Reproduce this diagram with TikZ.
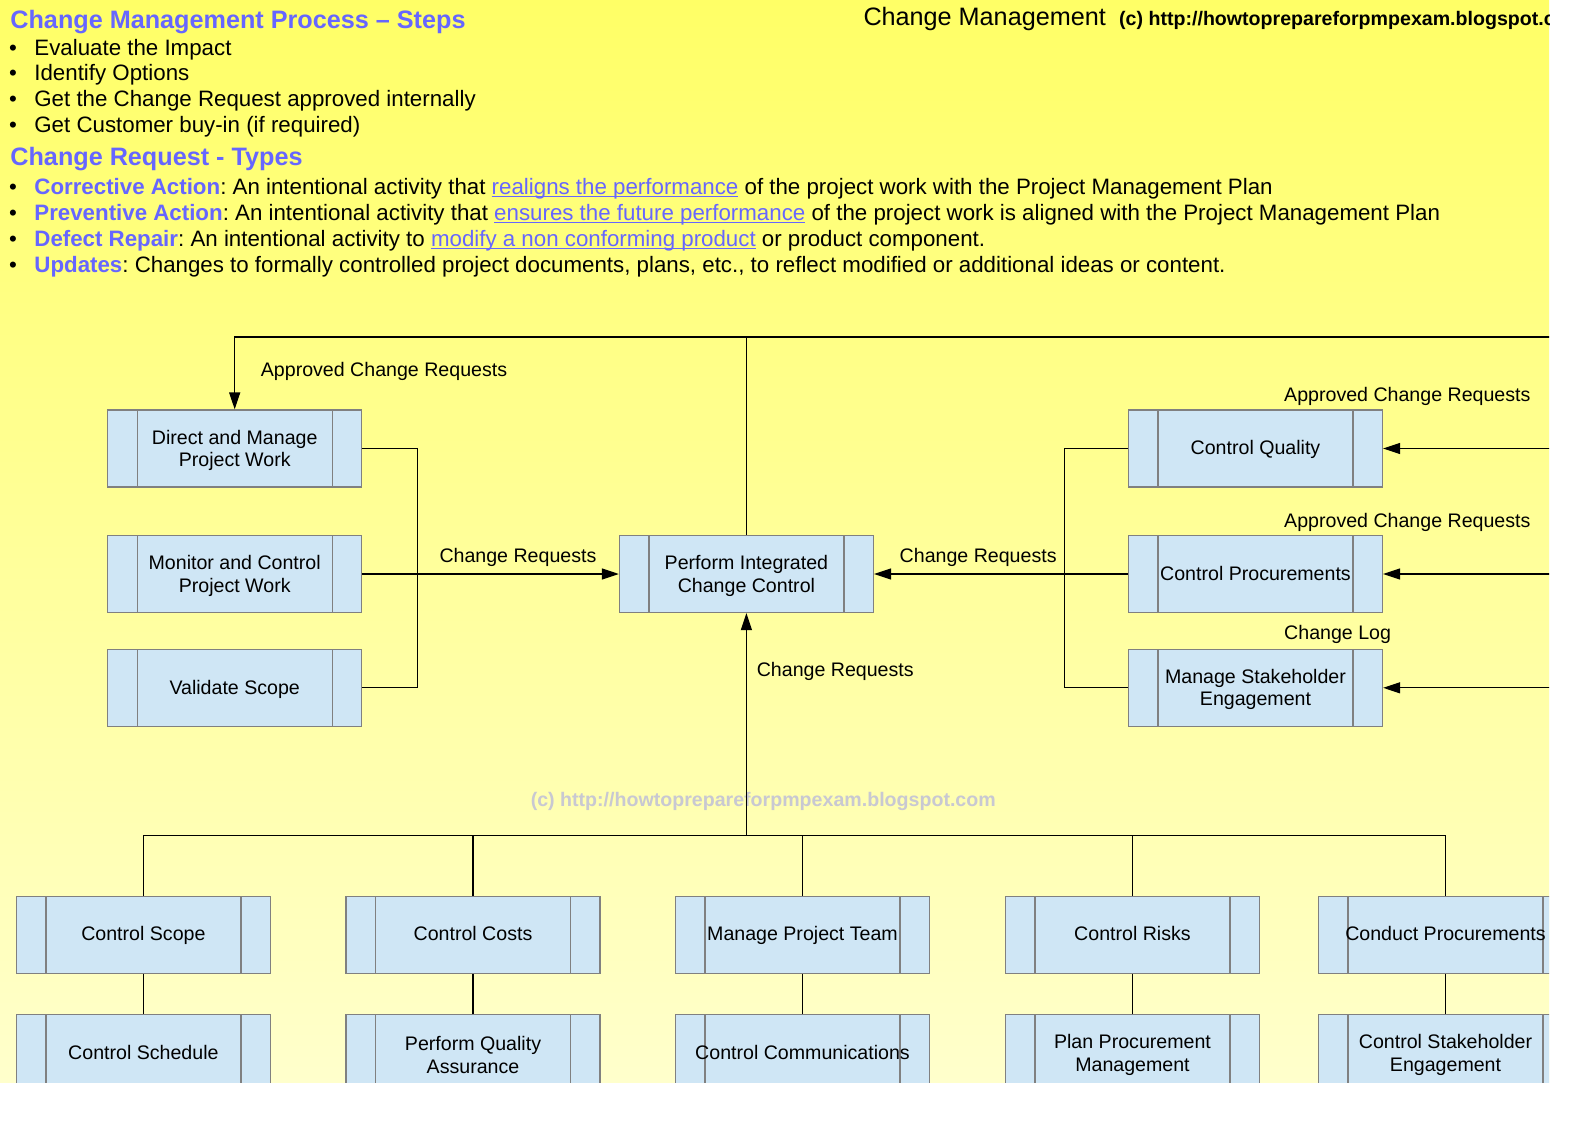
\documentclass[tikz,border=0pt]{standalone}
\usepackage{fontspec}
\setmainfont{Liberation Sans}
\usetikzlibrary{arrows.meta}
\definecolor{hblue}{HTML}{6666FF}
\definecolor{boxfill}{HTML}{CFE6F5}
\definecolor{boxline}{HTML}{808080}
\definecolor{bgtop}{HTML}{FFFF66}
\definecolor{bgbot}{HTML}{FFFFCC}
\definecolor{wmark}{HTML}{C8C8D2}
\newcommand\myhead{\fontsize{25.2}{30}\selectfont\bfseries}
\newcommand\mybul{\fontsize{22.3}{26}\selectfont}
\newcommand\mylab{\fontsize{19.6}{22.5}\selectfont}
\newcommand\lnk[1]{\setbox0\hbox{#1}\rlap{\color{hblue}\rule[-2.4pt]{\wd0}{1.1pt}}{\color{hblue}#1}}
\newcommand\kw[1]{\textcolor{hblue}{\bfseries #1}}
\frenchspacing
\begin{document}
\frenchspacing
\begin{tikzpicture}[x=1pt,y=-1pt,
  conn/.style={line width=1.2pt, draw=black},
  arr/.style={conn, -{Triangle[length=17pt,width=11pt]}},
  boxbase/.style={draw=boxline, fill=boxfill, line width=1.2pt, minimum width=254pt,
    minimum height=77pt, inner sep=0pt,
    path picture={\draw[boxline, line width=1.2pt]
      ([xshift=29.5pt]path picture bounding box.north west) -- ([xshift=29.5pt]path picture bounding box.south west)
      ([xshift=-29.5pt]path picture bounding box.north east) -- ([xshift=-29.5pt]path picture bounding box.south east);}},
  pbox/.style={boxbase,
    label={[font=\mylab, align=center, inner sep=0pt, yshift=-1.8pt]center:#1}},
  pboxs/.style={boxbase,
    label={[font=\mylab, inner sep=0pt, text height=14pt, text depth=1.6pt]center:#1}},
  lab/.style={anchor=base west, inner sep=0pt, font=\mylab},
  bul/.style={anchor=base west, inner sep=0pt, font=\mybul},
  head/.style={anchor=base west, inner sep=0pt, font=\myhead, text=hblue}]
\useasboundingbox (0,0) rectangle (1588,1123);
\fill[white] (0,0) rectangle (1588,1123);
\begin{scope}
\clip (0,0) rectangle (1549,1082.5);
\shade[top color=bgtop, bottom color=bgbot] (0,0) rectangle (1549,1082.5);
% header texts
\node[head] (h1) at (10.2,28.3) {Change Management Process – Steps};
\node[bul] (d1) at (9,55.3) {•};
\node[bul] (b1) at (34.2,55.3) {Evaluate the Impact};
\node[bul] (d2) at (9,81) {•};
\node[bul] (b2) at (34.2,81) {Identify Options};
\node[bul] (d3) at (9,106.6) {•};
\node[bul] (b3) at (34.2,106.6) {Get the Change Request approved internally};
\node[bul] (d4) at (9,132.3) {•};
\node[bul] (b4) at (34.2,132.3) {Get Customer buy-in (if required)};
\node[head] (h2) at (10.2,165.7) {Change Request - Types};
\node[bul] (e1) at (9,194.3) {•};
\node[bul] (t1) at (34.2,194.3) {\kw{Corrective Action}: An intentional activity that \lnk{realigns the performance} of the project work with the Project Management Plan};
\node[bul] (e2) at (9,220.5) {•};
\node[bul] (t2) at (34.2,220.5) {\kw{Preventive Action}: An intentional activity that \lnk{ensures the future performance} of the project work is aligned with the Project Management Plan};
\node[bul] (e3) at (9,246.7) {•};
\node[bul] (t3) at (34.2,246.7) {\kw{Defect Repair}: An intentional activity to \lnk{modify a non conforming product} or product component.};
\node[bul] (e4) at (9,272.9) {•};
\node[bul] (t4) at (34.2,272.9) {\kw{Updates}: Changes to formally controlled project documents, plans, etc., to reflect modified or additional ideas or content.};
\node[anchor=base west, inner sep=0pt, font=\fontsize{25.2}{28}\selectfont] (cm) at (863.3,26) {Change Management};
\node[anchor=base west, inner sep=0pt, font=\fontsize{19.6}{22}\selectfont\bfseries] (cr) at (1119,25.5) {(c) http://howtoprepareforpmpexam.blogspot.com};
% watermark
\node[lab, font=\mylab\bfseries, text=wmark] (wm) at (530.6,806) {(c) http://howtoprepareforpmpexam.blogspot.com};
% boxes
\node[pbox={Direct and Manage\\Project Work}] (dmpw) at (234.7,448.5) {};
\node[pbox={Monitor and Control\\Project Work}] (mcpw) at (234.7,574) {};
\node[pboxs={Validate Scope}] (vs) at (234.7,687.8) {};
\node[pbox={Perform Integrated\\Change Control}] (picc) at (746.4,574) {};
\node[pboxs={Control Quality}] (cq) at (1255.5,448.5) {};
\node[pboxs={Control Procurements}] (cp) at (1255.5,574) {};
\node[pbox={Manage Stakeholder\\Engagement}] (mse) at (1255.5,687.8) {};
\node[pboxs={Control Scope}] (r1a) at (143.4,934.7) {};
\node[pboxs={Control Costs}] (r1b) at (473,934.7) {};
\node[pboxs={Manage Project Team}] (r1c) at (802.5,934.7) {};
\node[pboxs={Control Risks}] (r1d) at (1132.5,934.7) {};
\node[pboxs={Conduct Procurements}] (r1e) at (1445.5,934.7) {};
\node[pboxs={Control Schedule}] (r2a) at (143.4,1053) {};
\node[pbox={Perform Quality\\Assurance}] (r2b) at (473,1053) {};
\node[pboxs={Control Communications}] (r2c) at (802.5,1053) {};
\node[pbox={Plan Procurement\\Management}] (r2d) at (1132.5,1053) {};
\node[pbox={Control Stakeholder\\Engagement}] (r2e) at (1445.5,1053) {};
% labels
\node[lab] (l1) at (260.7,376) {Approved Change Requests};
\node[lab] (l2) at (439.3,562.5) {Change Requests};
\node[lab] (l3) at (899.5,562.5) {Change Requests};
\node[lab] (l4) at (756.6,676.5) {Change Requests};
\node[lab] (l5) at (1284,401) {Approved Change Requests};
\node[lab] (l6) at (1284,527) {Approved Change Requests};
\node[lab] (l7) at (1284,639.7) {Change Log};
% connector helpers
\coordinate (topR) at (1570,337);
\coordinate (lbus) at (417.3,0);
\coordinate (rbus) at (1064.3,0);
\coordinate (redge) at (1570,0);
\coordinate (bbus) at (0,835.3);
% connectors
\draw[conn] (picc.north) -- (picc.north |- topR);
\draw[arr] (topR) -| (dmpw.north);
\draw[conn] (dmpw.east) -- (dmpw.east -| lbus) -- (vs.east -| lbus) -- (vs.east);
\draw[arr] (mcpw.east) -- (picc.west);
\draw[conn] (cq.west) -- (cq.west -| rbus) -- (mse.west -| rbus) -- (mse.west);
\draw[arr] (cp.west) -- (picc.east);
\draw[arr] (cq.east -| redge) -- (cq.east);
\draw[arr] (cp.east -| redge) -- (cp.east);
\draw[arr] (mse.east -| redge) -- (mse.east);
\draw[arr] (picc.south |- bbus) -- (picc.south);
\draw[conn] (r1a.north) -- (r1a.north |- bbus) -- (r1e.north |- bbus) -- (r1e.north);
\draw[conn] (r1b.north) -- (r1b.north |- bbus);
\draw[conn] (r1c.north) -- (r1c.north |- bbus);
\draw[conn] (r1d.north) -- (r1d.north |- bbus);
\draw[conn] (r1a.south) -- (r2a.north);
\draw[conn] (r1b.south) -- (r2b.north);
\draw[conn] (r1c.south) -- (r2c.north);
\draw[conn] (r1d.south) -- (r2d.north);
\draw[conn] (r1e.south) -- (r2e.north);
\end{scope}
\end{tikzpicture}
\end{document}
